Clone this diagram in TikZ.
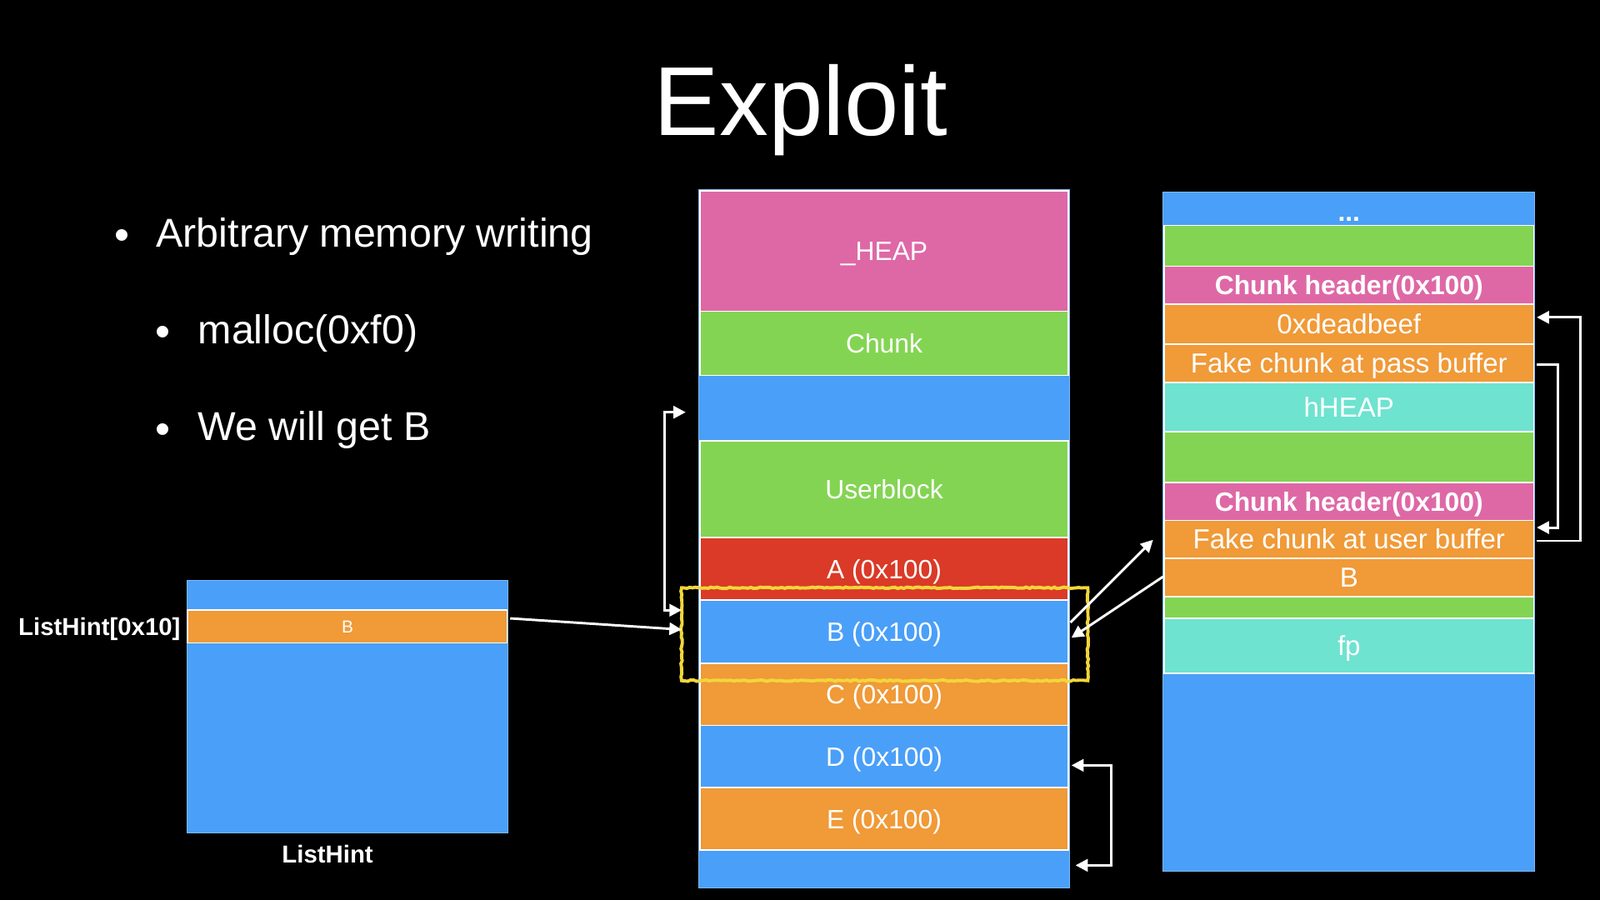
\documentclass[tikz,border=0pt]{standalone}
\usepackage{fontspec}
\setmainfont{Liberation Sans}
\usetikzlibrary{arrows.meta,calc,decorations.pathmorphing}
\definecolor{pinkc}{HTML}{DE68A6}
\definecolor{greenc}{HTML}{84D453}
\definecolor{bluec}{HTML}{4A9FF8}
\definecolor{blueedge}{HTML}{7DBAF8}
\definecolor{redc}{HTML}{DA3A27}
\definecolor{orangec}{HTML}{F09A38}
\definecolor{tealc}{HTML}{6DE3D0}
\definecolor{yellowc}{HTML}{F2D63A}
\begin{document}
\begin{tikzpicture}[x=1pt,y=-1pt,
  >={Triangle[length=12pt,width=12pt]},
  colbg/.style={fill=bluec, draw=blueedge, line width=0.8pt, inner sep=0pt, outer sep=0pt},
  midrow/.style={draw=white, line width=1.4pt, inner sep=0pt, outer sep=0pt, text=white,
    minimum width=361pt, text height=18.6pt, text depth=0pt, font=\fontsize{26}{30}\selectfont},
  rrow/.style={draw=white, line width=1.4pt, inner sep=0pt, outer sep=0pt, text=white,
    minimum width=362pt, text height=19.3pt, text depth=0pt, font=\fontsize{27}{31}\selectfont},
  boldrow/.style={rrow, text height=18.6pt, font=\bfseries\fontsize{26}{30}\selectfont},
  arr/.style={draw=white, line width=2.4pt},
  bullettext/.style={text=white, anchor=base west, inner sep=0pt, font=\fontsize{39.5}{46}\selectfont},
  bulletdot/.style={text=white, anchor=base, inner sep=0pt, font=\fontsize{42}{48}\selectfont},
  lbl/.style={text=white, inner sep=0pt, text height=17.2pt, text depth=0pt, font=\bfseries\fontsize{24}{28}\selectfont}
]
\useasboundingbox (0,0) rectangle (1568,882);
\fill[black] (0,0) rectangle (1568,882);

% title
\node[text=white, anchor=base, inner sep=0pt, font=\fontsize{96}{110}\selectfont] (title) at (785,133) {Exploit};

% bullets
\node[bulletdot] (d1) at (120,244.5) {•};
\node[bullettext] (t1) at (153,242) {Arbitrary memory writing};
\node[bulletdot] (d2) at (160,339.5) {•};
\node[bullettext] (t2) at (194,337) {malloc(0xf0)};
\node[bulletdot] (d3) at (160,434.5) {•};
\node[bullettext] (t3) at (194,432) {We will get B};

% ListHint
\node[colbg, minimum width=315pt, minimum height=247pt] (lh) at (340.5,692.5) {};
\node[draw=white, line width=1.4pt, fill=orangec, inner sep=0pt, outer sep=0pt, text=white,
  minimum width=313pt, minimum height=32pt, text height=12.2pt, text depth=0pt,
  font=\fontsize{17}{20}\selectfont] (lhB) at (340.5,614) {B};
\node[lbl, anchor=east] (lhidx) at (177,614) {ListHint[0x10]};
\node[lbl] (lhname) at (321,837) {ListHint};

% middle column
\node[colbg, minimum width=363pt, minimum height=684pt] (midbg) at (866.5,528) {};
\node[midrow, fill=pinkc, minimum height=118pt] (heap) at (866.5,246) {\_HEAP};
\node[midrow, fill=greenc, minimum height=63pt] (chunk) at (866.5,336.5) {Chunk};
\node[midrow, fill=greenc, minimum height=95pt] (ublock) at (866.5,479.5) {Userblock};
\node[midrow, fill=redc, minimum height=61pt] (A) at (866.5,557.5) {A (0x100)};
\node[midrow, fill=bluec, minimum height=62pt] (B) at (866.5,619) {B (0x100)};
\node[midrow, fill=orangec, minimum height=61pt] (C) at (866.5,680.5) {C (0x100)};
\node[midrow, fill=bluec, minimum height=61pt] (D) at (866.5,741.5) {D (0x100)};
\node[midrow, fill=orangec, minimum height=61pt] (E) at (866.5,802.5) {E (0x100)};

% highlight box
\node[inner sep=0pt, outer sep=0pt, minimum width=398pt, minimum height=91pt] (hl) at (867,621.5) {};
\draw[yellowc, line width=3.2pt, decorate, decoration={random steps, segment length=3pt, amplitude=0.7pt}]
  (hl.north west) rectangle (hl.south east);

% right column
\node[colbg, minimum width=364pt, minimum height=666pt] (rbg) at (1322,521) {};
\node[text=white, anchor=base, inner sep=0pt, font=\bfseries\fontsize{26}{30}\selectfont] (dots) at (1322,217) {...};
\node[rrow, fill=greenc, minimum height=40pt] (g1) at (1322,241) {};
\node[boldrow, fill=pinkc, minimum height=37pt] (ch1) at (1322,279.5) {Chunk header(0x100)};
\node[rrow, fill=orangec, minimum height=39pt] (dead) at (1322,317.5) {0xdeadbeef};
\node[rrow, fill=orangec, minimum height=38pt] (pass) at (1322,356) {Fake chunk at pass buffer};
\node[rrow, fill=tealc, minimum height=48pt] (hheap) at (1322,399) {hHEAP};
\node[rrow, fill=greenc, minimum height=50pt] (g2) at (1322,448) {};
\node[boldrow, fill=pinkc, minimum height=37pt] (ch2) at (1322,491.5) {Chunk header(0x100)};
\node[rrow, fill=orangec, minimum height=37pt] (user) at (1322,528.5) {Fake chunk at user buffer};
\node[rrow, fill=orangec, minimum height=38pt] (rb) at (1322,566) {B};
\node[rrow, fill=greenc, minimum height=21pt] (g3) at (1322,595.5) {};
\node[rrow, fill=tealc, minimum height=54pt] (fp) at (1322,633) {fp};

% connector end points
\coordinate (gapw) at ($(midbg.west |- chunk.south)+(-13,36)$);
\coordinate (bracktop) at ($(hl.north west)+(0,22)$);
\coordinate (botw) at ($(midbg.south east)+(6,-22)$);

% arrows
\draw[arr,->] ($(lhB.east)+(3,-8)$) -- ($(hl.west)+(0,-4.5)$);
\draw[arr,<->] (bracktop) -- ++(-17,0) |- (gapw);
\draw[arr,->] ($(B.north east)+(2,22)$) -- ($(user.west)+(-11,0.5)$);
\draw[arr,->] ($(rb.west)+(-1,-1)$) -- ($(B.east)+(3,6)$);
\draw[arr,<->] ($(D.east)+(3,8.5)$) -- ++(39,0) |- (botw);
\draw[arr,->] ($(pass.east)+(3,1)$) -- ++(21,0) |- ($(user.east)+(3,-11.5)$);
\draw[arr,->] ($(user.east)+(3,1.5)$) -- ++(43,0) |- ($(dead.east)+(3,-6.5)$);
\end{tikzpicture}
\end{document}
